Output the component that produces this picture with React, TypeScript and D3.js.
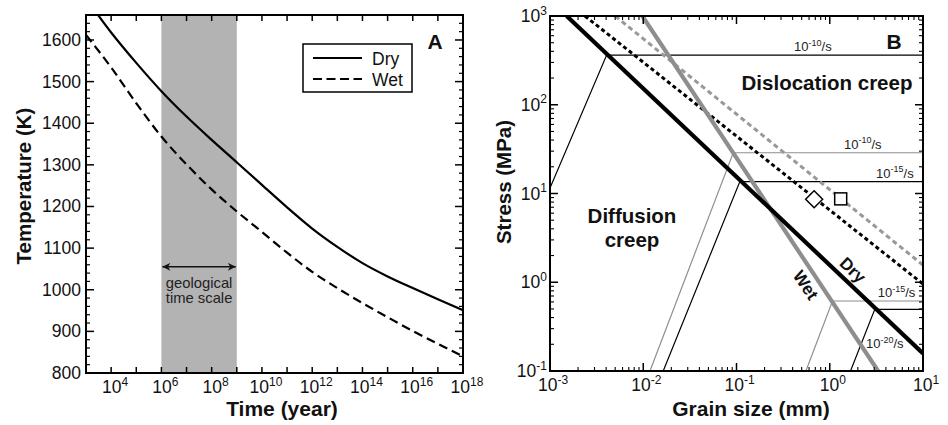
import React from "react";
import * as d3 from "d3";

// ---- panel A: temperature vs. time ----
const timeYears = [1e3, 1e4, 1e5, 1e6, 1e7, 1e8, 1e9, 1e10, 1e11, 1e12, 1e13, 1e14, 1e15, 1e16, 1e17, 1e18];
const dryTemp = [1700, 1618, 1545, 1477, 1416, 1360, 1306, 1252, 1198, 1147, 1103, 1064, 1032, 1004, 977, 951];
const wetTemp = [1612, 1534, 1448, 1368, 1301, 1241, 1188, 1139, 1089, 1043, 1004, 968, 934, 901, 870, 840];
const geoTimeScale = [1e6, 1e9];
const tempTicks = [800, 900, 1000, 1100, 1200, 1300, 1400, 1500, 1600];
const timeLabelExps = [4, 6, 8, 10, 12, 14, 16, 18];

// ---- panel B: deformation map, stress vs. grain size ----
const grainExps = [-3, -2, -1, 0, 1];
const stressExps = [-1, 0, 1, 2, 3];
type Pt = [number, number]; // [grain size mm, stress MPa]
const dryBoundary: Pt[] = [[0.00151, 1000], [10, 0.158]];
const wetBoundary: Pt[] = [[0.00977, 1000], [3.3, 0.1]];
const dryPiezometer: Pt[] = [[0.00237, 1000], [10, 0.955]];
const wetPiezometer: Pt[] = [[0.005, 1000], [10, 1.56]];
const contourRates = ["-10", "-15", "-20", "-10", "-15"];
const contourWet = [false, false, false, true, true];
const contourPts: Pt[][] = [
  [[0.001, 11.5], [0.00405, 363], [10, 363]],
  [[0.01637, 0.1], [0.1086, 13.6], [10, 13.6]],
  [[1.67, 0.1], [3.04, 0.495], [10, 0.495]],
  [[0.0118, 0.1], [0.0923, 28.8], [10, 28.8]],
  [[0.555, 0.1], [1.07, 0.615], [10, 0.615]],
];
const diamondPt: Pt = [0.68, 8.6];
const squarePt: Pt = [1.31, 8.7];

const W = 948, H = 425;
const A = { l: 86, r: 463, t: 15, b: 373 };
const B = { l: 550, r: 923, t: 16, b: 371 };
const FONT = '"Liberation Sans", Arial, Helvetica, sans-serif';
const GRAY = "#8e8e8e";

function Pow(props: { x: number; y: number; exp: string; anchor?: string; size?: number; sup?: number; tail?: string; fill?: string }) {
  const { x, y, exp, anchor = "middle", size = 17.5, sup = 12, tail, fill = "#111" } = props;
  return (
    <text x={x} y={y} textAnchor={anchor} fontSize={size} fill={fill}>
      <tspan>10</tspan>
      <tspan dy={-size * 0.42} fontSize={sup}>{exp}</tspan>
      {tail ? <tspan dy={size * 0.42}>{tail}</tspan> : null}
    </text>
  );
}

function PanelA() {
  const x = d3.scaleLog().domain([1e3, 1e18]).range([A.l, A.r]);
  const y = d3.scaleLinear().domain([800, 1660]).range([A.b, A.t]);
  const line = d3.line<number>().x((_, i) => x(timeYears[i])).y(d => y(d)).curve(d3.curveMonotoneX);
  const decades = d3.range(3, 19).map(e => Math.pow(10, e));
  const minorT = d3.range(800, 1661, 20).filter(v => v % 100 !== 0);
  const arrowT = 1055;
  const gx0 = x(geoTimeScale[0]), gx1 = x(geoTimeScale[1]);
  return (
    <g>
      <defs>
        <clipPath id="clipA"><rect x={A.l} y={A.t} width={A.r - A.l} height={A.b - A.t} /></clipPath>
        <marker id="arrA" viewBox="0 0 10 10" refX="10" refY="5" markerWidth="9" markerHeight="8" orient="auto-start-reverse" markerUnits="userSpaceOnUse">
          <path d="M0,0 L10,5 L0,10 L3,5 Z" fill="#111" />
        </marker>
      </defs>
      <rect x={gx0} y={A.t} width={gx1 - gx0} height={A.b - A.t} fill="#b3b3b3" />
      <g clipPath="url(#clipA)">
        <path d={line(dryTemp) || ""} fill="none" stroke="#000" strokeWidth={2.2} />
        <path d={line(wetTemp) || ""} fill="none" stroke="#000" strokeWidth={2.2} strokeDasharray="9 5" />
      </g>
      <line x1={gx0 + 1} x2={gx1 - 1} y1={y(arrowT)} y2={y(arrowT)} stroke="#111" strokeWidth={1.5}
        markerStart="url(#arrA)" markerEnd="url(#arrA)" />
      <text x={(gx0 + gx1) / 2} y={y(arrowT) + 21} textAnchor="middle" fontSize={14.8} fill="#222">geological</text>
      <text x={(gx0 + gx1) / 2} y={y(arrowT) + 36} textAnchor="middle" fontSize={14.8} fill="#222">time scale</text>

      {/* ticks */}
      {decades.map(d => (
        <g key={"tx" + d}>
          <line x1={x(d)} x2={x(d)} y1={A.b} y2={A.b - 6} stroke="#000" strokeWidth={1.5} />
          <line x1={x(d)} x2={x(d)} y1={A.t} y2={A.t + 6} stroke="#000" strokeWidth={1.5} />
        </g>
      ))}
      {tempTicks.map(v => (
        <g key={"ty" + v}>
          <line x1={A.l} x2={A.l + 8} y1={y(v)} y2={y(v)} stroke="#000" strokeWidth={1.5} />
          <line x1={A.r} x2={A.r - 8} y1={y(v)} y2={y(v)} stroke="#000" strokeWidth={1.5} />
          <text x={A.l - 5} y={y(v) + 6} textAnchor="end" fontSize={17.5} fill="#111">{v}</text>
        </g>
      ))}
      {minorT.map(v => (
        <g key={"tm" + v}>
          <line x1={A.l} x2={A.l + 4} y1={y(v)} y2={y(v)} stroke="#000" strokeWidth={1.2} />
          <line x1={A.r} x2={A.r - 4} y1={y(v)} y2={y(v)} stroke="#000" strokeWidth={1.2} />
        </g>
      ))}
      {timeLabelExps.map(e => (
        <Pow key={"lx" + e} x={x(Math.pow(10, e)) + 4} y={393} exp={String(e)} />
      ))}
      <rect x={A.l} y={A.t} width={A.r - A.l} height={A.b - A.t} fill="none" stroke="#000" strokeWidth={2} />

      {/* legend */}
      <rect x={303} y={44} width={109} height={48} fill="#fff" stroke="#000" strokeWidth={1.5} />
      <line x1={313} x2={362} y1={58} y2={58} stroke="#000" strokeWidth={2.2} />
      <line x1={313} x2={362} y1={79} y2={79} stroke="#000" strokeWidth={2.2} strokeDasharray="9 4.5" />
      <text x={372} y={65} fontSize={17.5} fill="#111">Dry</text>
      <text x={372} y={86} fontSize={17.5} fill="#111">Wet</text>

      <text x={435} y={49} textAnchor="middle" fontSize={21} fontWeight="bold" fill="#111">A</text>
      <text x={282} y={416} textAnchor="middle" fontSize={21} fontWeight="bold" fill="#111">Time (year)</text>
      <text transform={`translate(31,186) rotate(-90)`} textAnchor="middle" fontSize={20.5} fontWeight="bold" fill="#111">Temperature (K)</text>
    </g>
  );
}

function PanelB() {
  const x = d3.scaleLog().domain([1e-3, 10]).range([B.l, B.r]);
  const y = d3.scaleLog().domain([0.1, 1000]).range([B.b, B.t]);
  const line = d3.line<Pt>().x(d => x(d[0])).y(d => y(d[1]));
  const minorX = d3.range(-3, 1).flatMap(e => d3.range(2, 10).map(k => k * Math.pow(10, e)));
  const minorY = d3.range(-1, 3).flatMap(e => d3.range(2, 10).map(k => k * Math.pow(10, e)));
  const angle = (p: Pt[]) => {
    const a = p[0], b = p[p.length - 1];
    return (Math.atan2(y(b[1]) - y(a[1]), x(b[0]) - x(a[0])) * 180) / Math.PI;
  };
  // label anchors for each strain-rate contour (grain size, stress)
  const rateLabelAt: Pt[] = [[0.66, 363], [4.99, 13.6], [3.89, 0.18], [2.26, 28.8], [5.2, 0.615]];
  const rateLabelDy = [-4, -4, 0, -4, -4];
  const dx = x(diamondPt[0]), dy = y(diamondPt[1]);
  const sx = x(squarePt[0]), sy = y(squarePt[1]);
  return (
    <g>
      <defs>
        <clipPath id="clipB"><rect x={B.l} y={B.t} width={B.r - B.l} height={B.b - B.t} /></clipPath>
      </defs>
      <g clipPath="url(#clipB)">
        {contourPts.map((p, i) => (
          <path key={"c" + i} d={line(p) || ""} fill="none" stroke={contourWet[i] ? GRAY : "#000"} strokeWidth={1.2} />
        ))}
        <path d={line(wetPiezometer) || ""} fill="none" stroke="#999" strokeWidth={3} strokeDasharray="5 3.5" />
        <path d={line(dryPiezometer) || ""} fill="none" stroke="#000" strokeWidth={3} strokeDasharray="4 3" />
        <path d={line(wetBoundary) || ""} fill="none" stroke={GRAY} strokeWidth={4.2} />
        <path d={line(dryBoundary) || ""} fill="none" stroke="#000" strokeWidth={4.2} />
      </g>
      <path d={`M${dx - 8.5},${dy} L${dx},${dy - 8.5} L${dx + 8.5},${dy} L${dx},${dy + 8.5} Z`} fill="#fff" stroke="#000" strokeWidth={1.5} />
      <rect x={sx - 6} y={sy - 6} width={12} height={12} fill="#fff" stroke="#000" strokeWidth={1.5} />

      {contourRates.map((r, i) => (
        <Pow key={"rl" + i} x={x(rateLabelAt[i][0])} y={y(rateLabelAt[i][1]) + rateLabelDy[i]} exp={r} size={13} sup={9} tail="/s" fill="#222" />
      ))}

      <text x={827} y={90} textAnchor="middle" fontSize={20.5} fontWeight="bold" fill="#111">Dislocation creep</text>
      <text x={632} y={223} textAnchor="middle" fontSize={20.5} fontWeight="bold" fill="#111">Diffusion</text>
      <text x={632} y={247} textAnchor="middle" fontSize={20.5} fontWeight="bold" fill="#111">creep</text>
      <text transform={`translate(${x(1.77)},${y(1.374)}) rotate(${angle(dryBoundary)})`} textAnchor="middle" dy={6} fontSize={17} fontWeight="bold" fill="#111">Dry</text>
      <text transform={`translate(${x(0.555)},${y(0.933)}) rotate(${angle(wetBoundary)})`} textAnchor="middle" dy={6} fontSize={17} fontWeight="bold" fill="#111">Wet</text>

      {/* ticks */}
      {grainExps.map(e => {
        const v = Math.pow(10, e);
        return (
          <g key={"gx" + e}>
            <line x1={x(v)} x2={x(v)} y1={B.b} y2={B.b - 8} stroke="#000" strokeWidth={1.5} />
            <line x1={x(v)} x2={x(v)} y1={B.t} y2={B.t + 8} stroke="#000" strokeWidth={1.5} />
            <Pow x={x(v) + 3} y={391} exp={String(e)} />
          </g>
        );
      })}
      {minorX.map(v => (
        <g key={"mx" + v}>
          <line x1={x(v)} x2={x(v)} y1={B.b} y2={B.b - 4} stroke="#000" strokeWidth={1.1} />
          <line x1={x(v)} x2={x(v)} y1={B.t} y2={B.t + 4} stroke="#000" strokeWidth={1.1} />
        </g>
      ))}
      {stressExps.map(e => {
        const v = Math.pow(10, e);
        return (
          <g key={"sy" + e}>
            <line x1={B.l} x2={B.l + 8} y1={y(v)} y2={y(v)} stroke="#000" strokeWidth={1.5} />
            <line x1={B.r} x2={B.r - 8} y1={y(v)} y2={y(v)} stroke="#000" strokeWidth={1.5} />
            <Pow x={547} y={y(v) + 6} exp={String(e)} anchor="end" />
          </g>
        );
      })}
      {minorY.map(v => (
        <g key={"my" + v}>
          <line x1={B.l} x2={B.l + 4} y1={y(v)} y2={y(v)} stroke="#000" strokeWidth={1.1} />
          <line x1={B.r} x2={B.r - 4} y1={y(v)} y2={y(v)} stroke="#000" strokeWidth={1.1} />
        </g>
      ))}
      <rect x={B.l} y={B.t} width={B.r - B.l} height={B.b - B.t} fill="none" stroke="#000" strokeWidth={2} />

      <text x={894} y={49} textAnchor="middle" fontSize={21} fontWeight="bold" fill="#111">B</text>
      <text x={751} y={416} textAnchor="middle" fontSize={21} fontWeight="bold" fill="#111">Grain size (mm)</text>
      <text transform={`translate(511,182) rotate(-90)`} textAnchor="middle" fontSize={20.5} fontWeight="bold" fill="#111">Stress (MPa)</text>
    </g>
  );
}

export default function App() {
  return (
    <svg width={W} height={H} viewBox={`0 0 ${W} ${H}`} fontFamily={FONT}
      style={{ position: "absolute", left: 0, top: 0, background: "#fff" }}>
      <rect width={W} height={H} fill="#fff" />
      <PanelA />
      <PanelB />
    </svg>
  );
}
